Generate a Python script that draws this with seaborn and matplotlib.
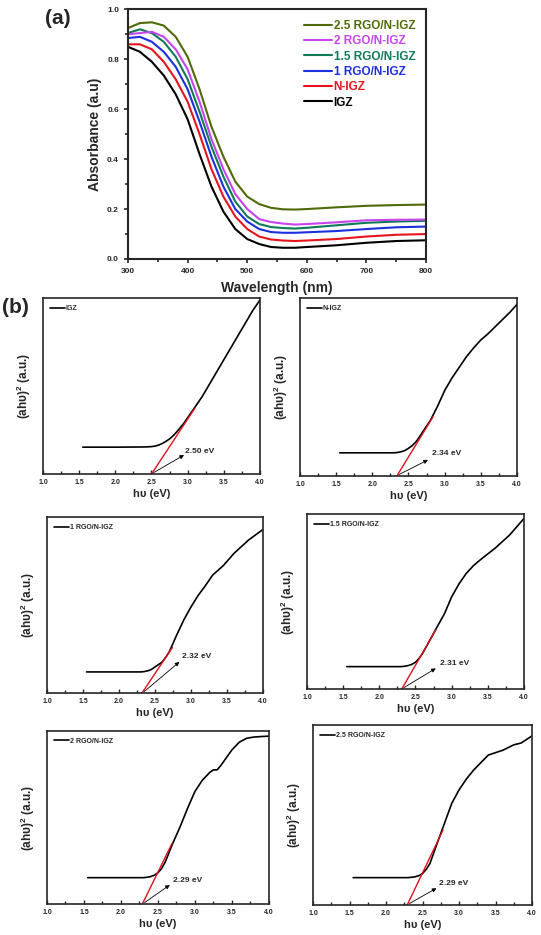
import pandas as pd
import numpy as np
import matplotlib
matplotlib.use("Agg")
import matplotlib.pyplot as plt
from matplotlib.ticker import MultipleLocator, NullLocator
import seaborn as sns

# UV-vis absorbance spectra (panel a)
wavelength = [300, 320, 340, 360, 380, 400, 420, 440, 460, 480, 500, 520, 540, 560, 580, 600, 650, 700, 750, 800]
abs_igz = [0.85, 0.83, 0.79, 0.735, 0.66, 0.56, 0.42, 0.29, 0.19, 0.12, 0.08, 0.06, 0.048, 0.045, 0.045, 0.048, 0.055, 0.065, 0.072, 0.075]
abs_nigz = [0.86, 0.86, 0.84, 0.79, 0.72, 0.63, 0.50, 0.36, 0.25, 0.17, 0.12, 0.09, 0.078, 0.074, 0.072, 0.074, 0.08, 0.09, 0.097, 0.10]
abs_1rgo = [0.885, 0.89, 0.87, 0.83, 0.77, 0.68, 0.55, 0.41, 0.29, 0.20, 0.15, 0.12, 0.108, 0.105, 0.105, 0.107, 0.112, 0.12, 0.127, 0.13]
abs_15rgo = [0.905, 0.92, 0.905, 0.87, 0.81, 0.72, 0.59, 0.45, 0.33, 0.23, 0.17, 0.14, 0.128, 0.124, 0.122, 0.125, 0.135, 0.145, 0.15, 0.153]
abs_2rgo = [0.90, 0.905, 0.91, 0.89, 0.84, 0.76, 0.63, 0.48, 0.36, 0.26, 0.20, 0.16, 0.148, 0.142, 0.138, 0.14, 0.147, 0.155, 0.157, 0.158]
abs_25rgo = [0.925, 0.945, 0.948, 0.935, 0.89, 0.81, 0.68, 0.53, 0.41, 0.31, 0.25, 0.22, 0.205, 0.199, 0.198, 0.20, 0.207, 0.213, 0.216, 0.218]

samples = ["IGZ", "N-IGZ", "1 RGO/N-IGZ", "1.5 RGO/N-IGZ", "2 RGO/N-IGZ", "2.5 RGO/N-IGZ"]
colors = ["#000000", "#e8141c", "#1c2fe0", "#0f7a55", "#c844f0", "#4f6a08"]

# Tauc plots (panel b), (ahv)^2 in arbitrary units
tauc_igz_x = [1.55, 2.0, 2.4, 2.5, 2.55, 2.6, 2.65, 2.7, 2.75, 2.8, 2.85, 2.95, 3.0, 3.1, 3.2, 3.3, 3.4, 3.5, 3.6, 3.7, 3.8, 3.9, 4.0]
tauc_igz_y = [0.153, 0.153, 0.154, 0.156, 0.159, 0.165, 0.174, 0.186, 0.20, 0.218, 0.24, 0.29, 0.32, 0.38, 0.44, 0.51, 0.58, 0.65, 0.72, 0.79, 0.86, 0.93, 0.99]
tauc_nigz_x = [1.55, 2.3, 2.35, 2.4, 2.45, 2.5, 2.55, 2.6, 2.65, 2.7, 2.8, 2.9, 3.0, 3.1, 3.2, 3.3, 3.4, 3.5, 3.6, 3.7, 3.8, 3.9, 4.0]
tauc_nigz_y = [0.13, 0.13, 0.132, 0.136, 0.143, 0.155, 0.17, 0.19, 0.218, 0.25, 0.31, 0.39, 0.48, 0.55, 0.61, 0.67, 0.72, 0.765, 0.80, 0.84, 0.88, 0.92, 0.965]
tauc_1rgo_x = [1.55, 2.3, 2.35, 2.4, 2.45, 2.5, 2.55, 2.6, 2.65, 2.7, 2.8, 2.9, 3.0, 3.1, 3.2, 3.3, 3.45, 3.6, 3.8, 4.0]
tauc_1rgo_y = [0.12, 0.12, 0.122, 0.126, 0.134, 0.148, 0.162, 0.176, 0.203, 0.235, 0.328, 0.415, 0.489, 0.555, 0.61, 0.67, 0.725, 0.795, 0.87, 0.93]
tauc_15rgo_x = [1.55, 2.3, 2.35, 2.4, 2.45, 2.5, 2.55, 2.6, 2.7, 2.8, 2.9, 3.0, 3.1, 3.2, 3.3, 3.4, 3.6, 3.8, 4.0]
tauc_15rgo_y = [0.128, 0.128, 0.13, 0.134, 0.141, 0.153, 0.175, 0.205, 0.28, 0.356, 0.43, 0.527, 0.60, 0.66, 0.705, 0.74, 0.805, 0.88, 0.975]
tauc_2rgo_x = [1.55, 2.3, 2.35, 2.4, 2.45, 2.5, 2.55, 2.6, 2.7, 2.8, 2.9, 3.0, 3.1, 3.2, 3.25, 3.3, 3.35, 3.5, 3.6, 3.7, 3.8, 3.9, 4.0]
tauc_2rgo_y = [0.152, 0.152, 0.154, 0.158, 0.166, 0.18, 0.205, 0.244, 0.35, 0.446, 0.552, 0.65, 0.715, 0.76, 0.775, 0.775, 0.80, 0.89, 0.935, 0.958, 0.965, 0.968, 0.97]
tauc_25rgo_x = [1.55, 2.3, 2.35, 2.4, 2.45, 2.5, 2.55, 2.6, 2.7, 2.8, 2.9, 3.0, 3.1, 3.2, 3.4, 3.6, 3.75, 3.85, 4.0]
tauc_25rgo_y = [0.152, 0.152, 0.154, 0.157, 0.163, 0.175, 0.198, 0.23, 0.343, 0.454, 0.565, 0.64, 0.70, 0.75, 0.833, 0.86, 0.89, 0.90, 0.94]

band_gaps = [2.50, 2.34, 2.32, 2.31, 2.29, 2.29]
gap_labels = ["2.50 eV", "2.34 eV", "2.32 eV", "2.31 eV", "2.29 eV", "2.29 eV"]
# end point of each red linear fit (x, y)
fit_end_x = [3.10, 2.84, 2.744, 2.78, 2.69, 2.78]
fit_end_y = [0.375, 0.333, 0.26, 0.337, 0.35, 0.417]
# where the arrow points / label sits
label_x = [2.96, 2.83, 2.87, 2.84, 2.71, 2.72]
label_y = [0.13, 0.124, 0.21, 0.143, 0.138, 0.12]
arrow_x = [2.95, 2.77, 2.84, 2.78, 2.66, 2.69]
arrow_y = [0.108, 0.09, 0.177, 0.118, 0.11, 0.093]

sns.set_style("ticks")
plt.rcParams['font.family'] = ['Liberation Sans', 'DejaVu Sans']
plt.rcParams['font.weight'] = 'bold'
plt.rcParams['axes.labelweight'] = 'bold'
plt.rcParams['mathtext.fontset'] = 'custom'
plt.rcParams['mathtext.bf'] = 'Liberation Sans:bold'
plt.rcParams['mathtext.rm'] = 'Liberation Sans:bold'

fig = plt.figure(figsize=(5.41, 9.35), dpi=100)

# ---------- panel (a) ----------
ax = fig.add_axes([0.2366, 0.723, 0.551, 0.267])
spectra = pd.DataFrame({
    "Wavelength": wavelength * 6,
    "Absorbance": abs_igz + abs_nigz + abs_1rgo + abs_15rgo + abs_2rgo + abs_25rgo,
    "Sample": np.repeat(samples, len(wavelength)),
})
sns.lineplot(data=spectra, x="Wavelength", y="Absorbance", hue="Sample",
             hue_order=samples, palette=colors, linewidth=1.5, ax=ax)
ax.set_xlim(300, 800)
ax.set_ylim(0, 1.0)
ax.xaxis.set_major_locator(MultipleLocator(100))
ax.xaxis.set_minor_locator(MultipleLocator(50))
ax.yaxis.set_major_locator(MultipleLocator(0.2))
ax.yaxis.set_minor_locator(MultipleLocator(0.1))
ax.tick_params(which='both', direction='out', width=1.2, labelsize=6)
ax.tick_params(which='major', length=3)
ax.tick_params(which='minor', length=2)
for s in ax.spines.values():
    s.set_linewidth(1.5)
ax.set_xlabel("Wavelength (nm)", fontsize=10, fontweight='bold')
ax.set_ylabel("Absorbance (a.u)", fontsize=10, fontweight='bold')
handles, labels = ax.get_legend_handles_labels()
leg = ax.legend(handles[::-1], labels[::-1], loc='upper right', frameon=False,
                fontsize=8.5, handlelength=2.4, handletextpad=0.15, labelspacing=0.28,
                bbox_to_anchor=(1.0, 1.0))
for txt, c in zip(leg.get_texts(), colors[::-1]):
    txt.set_color(c)
    txt.set_fontweight('bold')
fig.text(0.083, 0.974, "(a)", fontsize=15, fontweight='bold')

# ---------- panel (b) ----------
tauc_x = [tauc_igz_x, tauc_nigz_x, tauc_1rgo_x, tauc_15rgo_x, tauc_2rgo_x, tauc_25rgo_x]
tauc_y = [tauc_igz_y, tauc_nigz_y, tauc_1rgo_y, tauc_15rgo_y, tauc_2rgo_y, tauc_25rgo_y]
boxes = [
    [0.0795, 0.493, 0.401, 0.188],
    [0.5545, 0.491, 0.401, 0.190],
    [0.0869, 0.2588, 0.399, 0.188],
    [0.5675, 0.2631, 0.401, 0.187],
    [0.0869, 0.0332, 0.410, 0.185],
    [0.5786, 0.0321, 0.405, 0.1925],
]

for i, box in enumerate(boxes):
    bx = fig.add_axes(box)
    sns.lineplot(x=tauc_x[i], y=tauc_y[i], color='black', linewidth=1.2,
                 label=samples[i], ax=bx, sort=False)
    sns.lineplot(x=[band_gaps[i], fit_end_x[i]], y=[0, fit_end_y[i]], color='#e01020',
                 linewidth=1.0, ax=bx, sort=False)
    bx.annotate("", xy=(arrow_x[i], arrow_y[i]), xytext=(band_gaps[i] + 0.03, 0.008),
                arrowprops=dict(arrowstyle='-|>', color='black', lw=0.6,
                                mutation_scale=6, shrinkA=0, shrinkB=0))
    bx.text(label_x[i], label_y[i], gap_labels[i], fontsize=6, fontweight='bold',
            va='center', ha='left')
    bx.set_xlim(1.0, 4.0)
    bx.set_ylim(0, 1.0)
    bx.xaxis.set_major_locator(MultipleLocator(0.5))
    bx.xaxis.set_minor_locator(MultipleLocator(0.25))
    bx.yaxis.set_major_locator(NullLocator())
    bx.tick_params(which='both', direction='in', width=1.0, labelsize=5)
    bx.tick_params(which='major', length=3)
    bx.tick_params(which='minor', length=2)
    for s in bx.spines.values():
        s.set_linewidth(1.2)
    bx.set_xlabel("hυ (eV)", fontsize=8, fontweight='bold', labelpad=2)
    bx.set_ylabel(r"(ahυ)$^{\mathbf{2}}$ (a.u.)", fontsize=8.5, fontweight='bold', labelpad=7)
    lg = bx.legend(loc='upper left', frameon=False, fontsize=5, handlelength=2.2,
                   handletextpad=0.1, borderaxespad=0.6)
    for t in lg.get_texts():
        t.set_fontweight('bold')

fig.text(0.004, 0.665, "(b)", fontsize=15, fontweight='bold')

fig.savefig("out.png", dpi=100)
